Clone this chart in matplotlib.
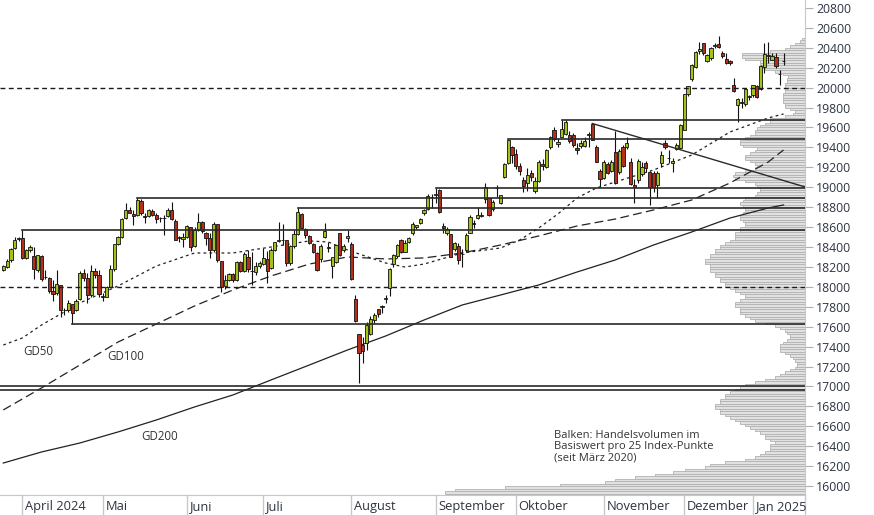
import numpy as np
import pandas as pd
import matplotlib
matplotlib.use("Agg")
import matplotlib.pyplot as plt
from matplotlib.transforms import blended_transform_factory

# ---------------- data ----------------
holidays = ["2024-03-29", "2024-04-01", "2024-05-01", "2024-12-24",
            "2024-12-25", "2024-12-26", "2024-12-31", "2025-01-01"]
dates = pd.bdate_range("2024-03-22", "2025-01-14")
dates = dates[~dates.isin(pd.to_datetime(holidays))]

opens = [18170,18200,18265,18385,18480,18490,18285,18365,18310,18165,18310,18100,18085,17960,17940,18020,17765,17770,17830,17770,
         17880,18140,18085,17918,18162,18119,17905,17900,18002,18175,18435,18498,18688,18772,18732,18722,18865,18712,18712,18762,
         18722,18688,18695,18712,18772,18664,18487,18477,18504,18598,18410,18571,18648,18537,18494,18370,18627,18259,18012,18069,
         18125,18069,18246,18159,18303,18160,18152,18210,18229,18276,18186,18370,18460,18470,18470,18236,18407,18527,18728,18580,
         18514,18427,18336,18276,18504,18400,18213,18253,18537,18370,18490,18430,17874,17526,17420,17440,17526,17667,17774,17800,
         17880,17985,18229,18310,18470,18353,18453,18537,18600,18638,18745,18778,18900,18920,18972,18610,18537,18530,18376,18410,
         18330,18370,18544,18640,18688,18720,18879,18889,18778,18990,18846,19107,19247,19401,19330,19214,19073,19040,19140,18960,
         19066,19234,19207,19401,19575,19431,19508,19535,19525,19525,19391,19414,19414,19520,19635,19401,19160,19090,19234,19167,
         19358,19157,19401,19401,19257,19023,19073,19133,19240,19157,19140,19023,19240,19448,19290,19247,19381,19391,19575,19937,
         20084,20211,20372,20445,20271,20295,20418,20438,20345,20290,20268,20027,19826,19855,19836,19920,19927,20017,19983,20204,
         20320,20278,20305,20140,20265]
highs = [18220,18275,18390,18500,18505,18570,18380,18420,18405,18320,18320,18170,18100,18070,18170,18020,17790,17870,17830,17880,
         18160,18180,18136,18220,18190,18170,17940,18005,18220,18435,18510,18690,18845,18805,18772,18892,18880,18738,18778,18780,
         18738,18705,18720,18790,18855,18680,18510,18537,18621,18604,18604,18738,18660,18547,18537,18648,18630,18260,18119,18140,
         18135,18260,18262,18353,18370,18353,18253,18260,18387,18360,18390,18453,18648,18627,18470,18420,18570,18790,18738,18587,
         18520,18440,18345,18427,18637,18453,18303,18420,18545,18430,18570,18447,17918,17526,17500,17650,17707,17740,17780,17818,
         17918,18186,18330,18430,18480,18470,18500,18654,18621,18688,18782,18932,18932,18992,18980,18640,18600,18530,18450,18437,
         18376,18537,18721,18671,18805,18755,19039,18889,18870,19023,18922,19247,19480,19414,19380,19240,19107,19190,19170,19100,
         19270,19280,19380,19510,19600,19490,19680,19675,19560,19540,19440,19470,19500,19550,19640,19420,19180,19270,19250,19270,
         19560,19380,19420,19500,19290,19080,19280,19250,19260,19160,19160,19160,19360,19470,19370,19290,19440,19640,19940,20020,
         20240,20370,20460,20450,20340,20410,20445,20519,20372,20345,20280,20094,19900,19893,19990,19930,20030,20027,20225,20445,
         20462,20345,20350,20178,20352]
lows = [18160,18190,18250,18380,18460,18275,18275,18350,18080,18150,18060,18080,17935,17860,17920,17700,17720,17750,17626,17760,
        17870,18060,17834,17895,18090,17895,17860,17895,17995,18160,18420,18487,18678,18738,18621,18712,18720,18638,18698,18715,
        18638,18655,18520,18700,18670,18470,18454,18403,18487,18363,18403,18564,18540,18420,18286,18346,18253,17950,17978,18060,
        18052,18060,18150,18152,18152,18018,18119,18190,18220,18035,18180,18360,18453,18420,18213,18219,18387,18520,18580,18487,
        18427,18340,18160,18253,18487,18346,18092,18243,18310,18350,18453,18068,17650,17031,17238,17366,17516,17640,17700,17734,
        17834,17908,18203,18290,18340,18350,18440,18520,18577,18631,18721,18771,18788,18838,18738,18537,18520,18296,18360,18229,
        18203,18353,18537,18587,18678,18705,18838,18711,18760,18905,18832,19090,19234,19240,19180,19120,18956,18960,19060,18940,
        19050,19170,19190,19380,19460,19400,19500,19520,19440,19400,19330,19390,19400,19400,19470,19250,19000,19080,19130,19150,
        19030,19130,19200,19380,19020,18839,19040,19110,19150,18822,18950,18890,19200,19380,19240,19150,19370,19380,19570,19920,
        20070,20200,20340,20330,20260,20280,20395,20395,20295,20240,20230,19960,19659,19793,19816,19876,19910,19893,19976,20150,
        20244,20278,20194,20027,20228]
closes = [18205,18260,18380,18475,18492,18285,18365,18400,18175,18318,18077,18097,17954,17930,18027,17766,17770,17837,17737,17860,
          18137,18089,17917,18161,18118,17932,17896,18001,18175,18430,18498,18686,18773,18742,18716,18869,18738,18704,18768,18726,
          18680,18691,18693,18774,18677,18473,18496,18498,18608,18405,18575,18652,18560,18494,18369,18630,18265,18002,18068,18131,
          18067,18254,18163,18325,18177,18155,18211,18235,18291,18164,18374,18450,18475,18472,18236,18407,18534,18748,18590,18518,
          18437,18354,18171,18407,18558,18387,18299,18418,18320,18411,18509,18083,17661,17339,17354,17615,17680,17722,17726,17812,
          17890,18176,18320,18420,18353,18443,18493,18633,18617,18681,18772,18912,18907,18930,18747,18591,18576,18301,18443,18266,
          18330,18518,18699,18633,18726,18711,19002,18720,18847,18997,18918,19238,19474,19325,19213,19164,19015,19121,19104,19066,
          19254,19210,19373,19508,19486,19458,19583,19657,19461,19421,19377,19443,19464,19532,19479,19257,19078,19255,19148,19256,
          19039,19362,19215,19448,19034,19003,19264,19207,19189,19000,19004,19146,19323,19405,19296,19262,19426,19626,19934,20016,
          20232,20358,20385,20346,20330,20399,20427,20406,20314,20246,20243,19970,19885,19849,19984,19905,20025,19906,20217,20340,
          20330,20317,20215,20133,20272]

ma_idx = [0, 5, 10, 20, 30, 40, 50, 60, 70, 80, 85, 90, 100, 105, 110, 120, 130, 135, 140, 145, 150, 155, 160, 170, 180, 190, 200, 204]
gd50 = [17416, 17487, 17617, 17838, 18009, 18209, 18340, 18340, 18400, 18461, 18450, 18370, 18239, 18199, 18229, 18340, 18390,
        18470, 18591, 18732, 18892, 18992, 19053, 19173, 19324, 19555, 19696, 19736]
ma100_idx = [0, 10, 20, 30, 40, 50, 60, 70, 80, 90, 100, 110, 120, 130, 140, 150, 160, 170, 180, 190, 200, 204]
gd100 = [16764, 16985, 17215, 17446, 17627, 17808, 17968, 18109, 18229, 18300, 18280, 18290, 18340, 18420, 18511, 18611, 18681,
         18772, 18872, 19043, 19254, 19374]
gd200 = [16231, 16342, 16432, 16543, 16663, 16794, 16914, 17065, 17215, 17366, 17507, 17667, 17818, 17918, 18019, 18149, 18270,
         18420, 18551, 18691, 18792, 18822]

# support / resistance lines: (start index, level)
support_start = [146, 132, 113, 35, 77, 5, 18]
support_level = [19680, 19480, 18992, 18892, 18790, 18570, 17626]
full_lines = [17005, 16965]
dashed_levels = [20000, 18000]
trend_idx = [154, 209.6]
trend_val = [19640, 19003]

# volume profile: bar length per 25 index points (bins starting at 15900)
vol_bins = np.arange(15900, 20525, 25)
vol = [360, 360, 350, 300, 245, 200, 190, 170, 150, 132, 120, 100, 95, 80, 60, 50,
       45, 40, 35, 35, 35, 30, 35, 40, 40, 45, 50, 55, 60, 65, 70, 75,
       80, 85, 85, 90, 90, 85, 85, 80, 80, 75, 70, 65, 60, 50, 40, 30,
       25, 20, 15, 10, 8, 8, 10, 12, 15, 20, 25, 25, 25, 22, 18, 15,
       15, 18, 20, 25, 30, 40, 50, 55, 60, 65, 65, 65, 70, 70, 65, 60,
       60, 65, 70, 75, 80, 80, 85, 85, 90, 90, 95, 95, 95, 100, 100, 95,
       95, 90, 90, 85, 85, 80, 75, 70, 70, 70, 65, 65, 60, 60, 62, 65,
       65, 62, 60, 60, 62, 65, 62, 60, 50, 48, 45, 45, 48, 50, 60, 70,
       72, 70, 60, 50, 48, 50, 55, 60, 60, 55, 50, 48, 62, 65, 65, 60,
       55, 50, 50, 48, 45, 40, 35, 35, 20, 12, 10, 15, 20, 20, 22, 22,
       22, 22, 20, 20, 20, 20, 18, 18, 17, 22, 30, 40, 45, 45, 45, 60,
       63, 63, 35, 20, 15, 10, 5, 3, 0]

month_labels = ["April 2024", "Mai", "Juni", "Juli", "August", "September",
                "Oktober", "November", "Dezember", "Jan 2025"]
yticks = list(range(16000, 20801, 200))

# ---------------- figure ----------------
plt.rcParams['font.family'] = ['Open Sans', 'DejaVu Sans']
W, H = 874, 515
fig = plt.figure(figsize=(W / 100, H / 100), dpi=100)
rect = [0, 1 - 495 / H, 805 / W, 495 / H]
ymin, ymax = 15910, 20880
xmin, xmax = -0.86, 209.6

axv = fig.add_axes(rect)
axv.set_xlim(805, 0)
axv.set_ylim(ymin, ymax)
axv.barh(vol_bins + 12.5, vol, height=25, left=0, color='#e1e1e1',
         edgecolor='#b2b2b2', linewidth=0.6)
axv.axis('off')

ax = fig.add_axes(rect)
ax.patch.set_alpha(0)
ax.set_xlim(xmin, xmax)
ax.set_ylim(ymin, ymax)

x = np.arange(len(dates))
o = np.array(opens); c = np.array(closes); h = np.array(highs); l = np.array(lows)
up = c >= o
ax.vlines(x, l, h, color='#111111', linewidth=0.8, zorder=3)
body_lo = np.minimum(o, c)
body_h = np.maximum(np.abs(c - o), 2)
cols = np.where(up, '#a2c21c', '#b3301e')
ax.bar(x, body_h, bottom=body_lo, width=0.84, color=cols, edgecolor='#111111',
       linewidth=0.6, zorder=4)

# moving averages
ax.plot(ma_idx, gd50, color='#222222', lw=0.9, ls=(0, (2.2, 2.6)), zorder=2)
ax.plot(ma100_idx, gd100, color='#222222', lw=0.9, ls=(0, (7, 3.5)), zorder=2)
ax.plot(ma100_idx, gd200, color='#222222', lw=0.9, zorder=2)

# support lines
for s, lv in zip(support_start, support_level):
    ax.plot([s, xmax], [lv, lv], color='#2a2a2a', lw=1.2, zorder=5)
for lv in full_lines:
    ax.plot([xmin, xmax], [lv, lv], color='#2a2a2a', lw=1.2, zorder=5)
for lv in dashed_levels:
    ax.plot([xmin, xmax], [lv, lv], color='#1a1a1a', lw=1.0, ls=(0, (3.5, 2.5)), zorder=5)
ax.plot(trend_idx, trend_val, color='#2a2a2a', lw=1.0, zorder=5)

# labels
tc = '#333333'
ax.text(5.15, 17346, 'GD50', fontsize=8.3, color=tc, va='center')
ax.text(27.1, 17296, 'GD100', fontsize=8.3, color=tc, va='center')
ax.text(36.0, 16502, 'GD200', fontsize=8.3, color=tc, va='center')
ax.text(144.0, 16392, 'Balken: Handelsvolumen im\nBasiswert pro 25 Index-Punkte\n(seit März 2020)',
        fontsize=8, color=tc, va='center', ha='left', linespacing=1.0)

# axes styling
for sp in ['top', 'left']:
    ax.spines[sp].set_visible(False)
ax.spines['right'].set_color('#c8c8c8')
ax.spines['bottom'].set_color('#c8c8c8')
ax.yaxis.tick_right()
ax.set_yticks(yticks)
ax.set_yticklabels([str(v) for v in yticks])
ax.tick_params(axis='y', colors='#b0b0b0', length=5.5, width=0.8, pad=2.5,
               labelcolor='#2d3440', labelsize=8.8)

# month separators and labels
dser = pd.Series(dates)
month_first = dser.groupby([dser.dt.year, dser.dt.month]).apply(lambda s: s.index[0]).values[1:]
ax.set_xticks([])
trans = blended_transform_factory(ax.transData, ax.transAxes)
for pos, lab in zip(list(month_first) + [xmax], month_labels + [None]):
    ax.plot([pos, pos], [0, -0.045], transform=trans, color='#c8c8c8', lw=1, clip_on=False)
    if lab:
        ax.text(pos + 0.75, -0.024, lab, transform=trans, fontsize=9.3, color='#2d3440',
                va='center', ha='left')

fig.savefig('out.png', dpi=100)
